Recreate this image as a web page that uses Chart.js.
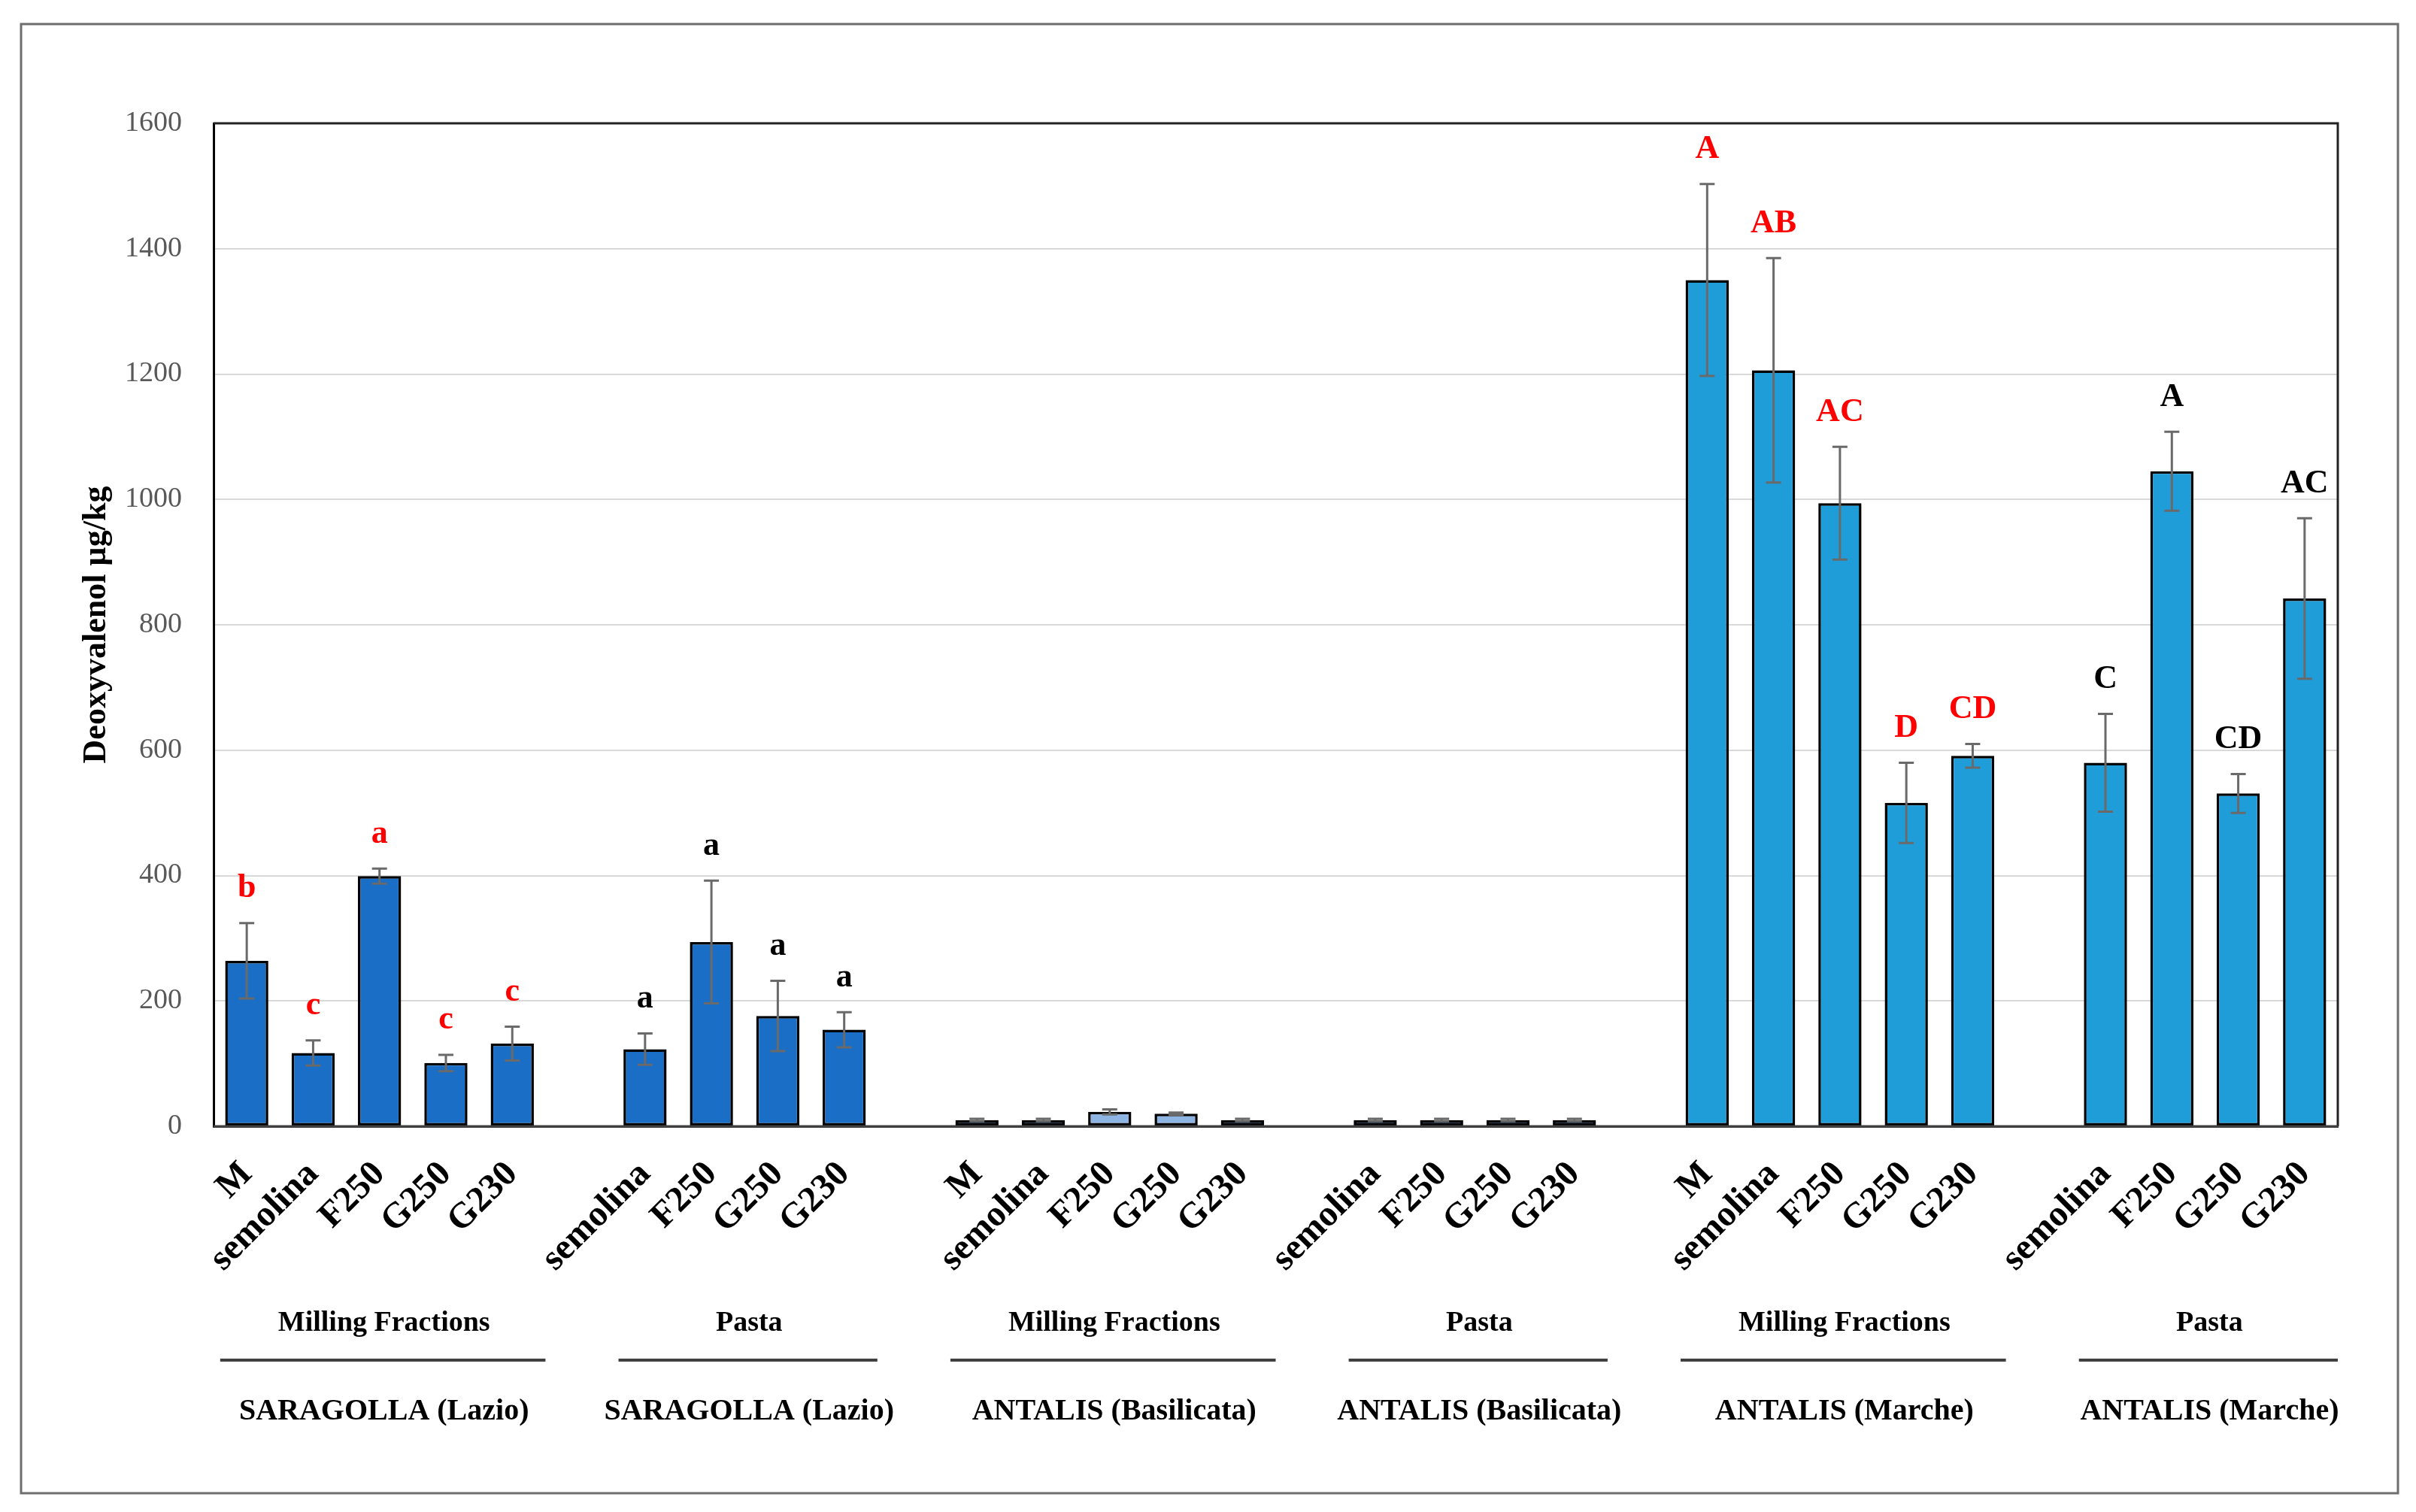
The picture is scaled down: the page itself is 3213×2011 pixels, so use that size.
<!DOCTYPE html>
<html><head><meta charset="utf-8">
<script src="https://cdn.jsdelivr.net/npm/chart.js@4"></script>
<style>html,body{margin:0;padding:0;background:#fff;}canvas{display:block;}</style>
</head><body>
<canvas id="c" width="3213" height="2011"></canvas>
<script>
// ---- data ----
const categories = ['M','semolina','F250','G250','G230','',
                    'semolina','F250','G250','G230','',
                    'M','semolina','F250','G250','G230','',
                    'semolina','F250','G250','G230','',
                    'M','semolina','F250','G250','G230','',
                    'semolina','F250','G250','G230'];
const values = [264,117,399,101,132,null,
                123,294,176,154,null,
                10,10,23,20,10,null,
                10,10,10,10,null,
                1350,1206,994,516,591,null,
                580,1045,531,842];
const errors = [60,20,12,13,27,null,
                25,98,56,28,null,
                2,2,4,2,2,null,
                2,2,2,2,null,
                153,179,90,64,19,null,
                78,63,31,128];
const letters = ['b','c','a','c','c',null,
                 'a','a','a','a',null,
                 null,null,null,null,null,null,
                 null,null,null,null,null,
                 'A','AB','AC','D','CD',null,
                 'C','A','CD','AC'];
const groupLabels = ['Milling Fractions','Pasta','Milling Fractions','Pasta','Milling Fractions','Pasta'];
const regionLabels = ['SARAGOLLA (Lazio)','SARAGOLLA (Lazio)','ANTALIS (Basilicata)','ANTALIS (Basilicata)','ANTALIS (Marche)','ANTALIS (Marche)'];
const groupFirst = [0,6,11,17,22,28];
const groupLast  = [4,9,15,20,26,31];
const yTicks = [0,200,400,600,800,1000,1200,1400,1600];
const yTitle = 'Deoxyvalenol µg/kg';

// ---- styles ----
const C1 = '#1B6EC6', CDARK = '#1F5AA6', CLIGHT = '#8DB4E2', C5 = '#1E9DD9';
const barColors = categories.map((c,i)=>{
  if (i<=9) return C1;
  if (i===13 || i===14) return CLIGHT;
  if (i<=20) return CDARK;
  return C5;
});
const letterColors = categories.map((c,i)=> (i<=4 || (i>=22 && i<=26)) ? '#FF0000' : '#000000');
const SERIF = '"Liberation Serif", "Times New Roman", serif';

const overlay = {
  id:'overlay',
  afterDatasetsDraw(chart){
    const ctx = chart.ctx, xs = chart.scales.x, ys = chart.scales.y;
    ctx.save();
    ctx.strokeStyle = '#6a6a6a'; ctx.lineWidth = 3;
    values.forEach((v,i)=>{
      if (v==null || errors[i]==null) return;
      const px = xs.getPixelForValue(i);
      const t = ys.getPixelForValue(v+errors[i]);
      const b = ys.getPixelForValue(v-errors[i]);
      ctx.beginPath();
      ctx.moveTo(px,t); ctx.lineTo(px,b);
      ctx.moveTo(px-10,t); ctx.lineTo(px+10,t);
      ctx.moveTo(px-10,b); ctx.lineTo(px+10,b);
      ctx.stroke();
    });
    ctx.font = 'bold 44px ' + SERIF;
    ctx.textAlign = 'center'; ctx.textBaseline = 'middle';
    letters.forEach((l,i)=>{
      if (!l) return;
      const px = xs.getPixelForValue(i);
      const t = ys.getPixelForValue(values[i]+errors[i]);
      ctx.fillStyle = letterColors[i];
      ctx.fillText(l, px, t-46);
    });
    ctx.restore();
  },
  afterDraw(chart){
    const ctx = chart.ctx, xs = chart.scales.x, a = chart.chartArea;
    ctx.save();
    // plot border top/right/bottom
    ctx.strokeStyle = '#222'; ctx.lineWidth = 3;
    ctx.beginPath();
    ctx.moveTo(a.left, a.top); ctx.lineTo(a.right, a.top); ctx.lineTo(a.right, a.bottom);
    ctx.stroke();
    ctx.strokeStyle = '#404040';
    ctx.beginPath(); ctx.moveTo(a.left, a.bottom); ctx.lineTo(a.right, a.bottom); ctx.stroke();
    // group labels
    const slot = xs.getPixelForValue(1) - xs.getPixelForValue(0);
    ctx.fillStyle = '#000'; ctx.textAlign = 'center'; ctx.textBaseline = 'middle';
    groupLabels.forEach((g,k)=>{
      const x0 = xs.getPixelForValue(groupFirst[k]), x1 = xs.getPixelForValue(groupLast[k]);
      const cx = (x0+x1)/2 + 6;
      ctx.font = 'bold 38px ' + SERIF;
      ctx.fillText(g, cx, 1760);
      ctx.strokeStyle = '#404040'; ctx.lineWidth = 4;
      ctx.beginPath(); ctx.moveTo(x0-0.4*slot, 1809); ctx.lineTo(x1+0.5*slot, 1809); ctx.stroke();
      ctx.font = 'bold 40px ' + SERIF;
      ctx.fillText(regionLabels[k], cx, 1878);
    });
    // y title
    ctx.save();
    ctx.translate(129, (a.top+a.bottom)/2);
    ctx.rotate(-Math.PI/2);
    ctx.font = 'bold 44px ' + SERIF;
    ctx.fillText(yTitle, 0, 0);
    ctx.restore();
    // outer frame
    ctx.strokeStyle = '#6e6e6e'; ctx.lineWidth = 3;
    ctx.strokeRect(28, 32, 3189-28, 1986-32);
    ctx.restore();
  }
};

new Chart(document.getElementById('c'), {
  type:'bar',
  data:{
    labels: categories,
    datasets:[{
      data: values,
      backgroundColor: barColors,
      borderColor:'#000',
      borderWidth:3.5,
      borderSkipped:false,
      barPercentage:0.65,
      categoryPercentage:1.0
    }]
  },
  options:{
    responsive:false,
    devicePixelRatio:1,
    animation:false,
    layout:{padding:{top:164,right:104,left:0,bottom:0}},
    plugins:{legend:{display:false},tooltip:{enabled:false}},
    scales:{
      x:{
        grid:{display:false},
        border:{display:true,color:'#404040',width:3},
        ticks:{autoSkip:false,maxRotation:45,minRotation:45,padding:28,color:'#000',
               font:{family:SERIF,size:48,weight:'bold'}},
        afterFit(s){ s.height = 513; }
      },
      y:{
        min:0,max:1600,
        afterBuildTicks(s){ s.ticks = yTicks.map(v=>({value:v})); },
        grid:{color:'#d9d9d9',lineWidth:2,drawTicks:false},
        border:{display:true,color:'#000',width:3},
        ticks:{padding:42,color:'#595959',font:{family:SERIF,size:38},callback:(v)=>String(v)},
        afterFit(s){ s.width = 284; }
      }
    }
  },
  plugins:[overlay]
});
</script>
</body></html>
